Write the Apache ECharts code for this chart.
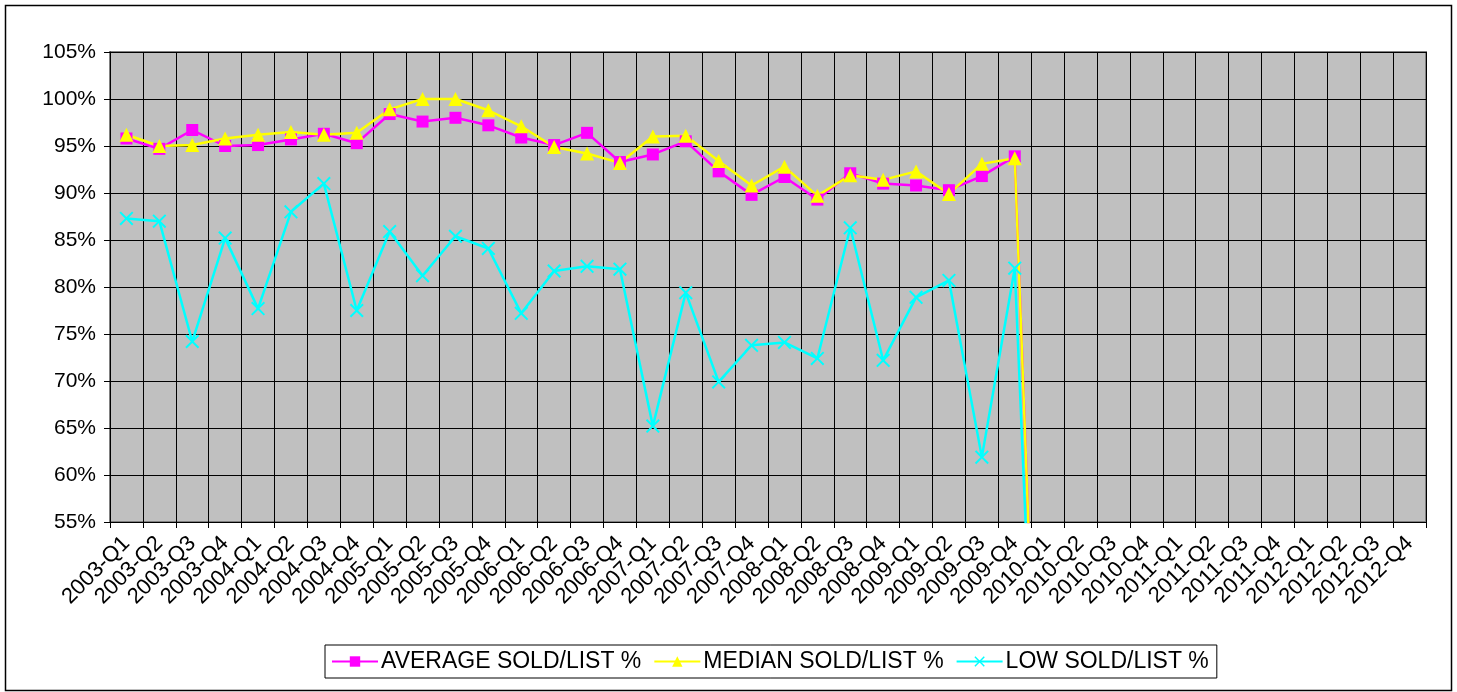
<!DOCTYPE html>
<html>
<head>
<meta charset="utf-8">
<script src="https://cdn.jsdelivr.net/npm/echarts@6/dist/echarts.min.js"></script>
<style>
  html, body { margin: 0; padding: 0; background: #fff; }
  #chart { width: 1457px; height: 692px; }
</style>
</head>
<body>
<div id="chart"></div>
<script>
// quarters 2003-Q1 .. 2012-Q4
var quarters = [];
for (var y = 2003; y <= 2012; y++) {
    for (var q = 1; q <= 4; q++) quarters.push(y + '-Q' + q);
}

// values (2010-Q1 drops to 0, later quarters empty)
var averageSold = [95.8, 94.7, 96.7, 95.0, 95.1, 95.7, 96.3, 95.3, 98.4, 97.6,
    98.0, 97.2, 95.9, 95.1, 96.4, 93.3, 94.1, 95.5, 92.3, 89.8,
    91.7, 89.3, 92.1, 91.0, 90.8, 90.3, 91.8, 93.9, 0];
var medianSold = [96.2, 95.0, 95.1, 95.8, 96.2, 96.5, 96.2, 96.4, 98.9, 100.0,
    100.0, 98.8, 97.1, 94.9, 94.2, 93.2, 96.0, 96.1, 93.4, 90.8,
    92.8, 89.7, 91.9, 91.4, 92.3, 89.9, 93.1, 93.7, 0];
var lowSold = [87.3, 87.0, 74.2, 85.2, 77.7, 88.0, 91.0, 77.5, 85.9, 81.2,
    85.4, 84.1, 77.2, 81.7, 82.2, 81.9, 65.2, 79.4, 69.9, 73.8,
    74.1, 72.4, 86.3, 72.2, 78.9, 80.7, 61.9, 82.0, 0];

var seriesNames = ['AVERAGE SOLD/LIST %', 'MEDIAN SOLD/LIST %', 'LOW SOLD/LIST %'];

var crossPath = 'path://M0,1 L1,0 L5,4 L9,0 L10,1 L6,5 L10,9 L9,10 L5,6 L1,10 L0,9 L4,5 Z';

var chart = echarts.init(document.getElementById('chart'));
var option = {
    animation: false,
    backgroundColor: '#fff',
    textStyle: { fontFamily: 'Liberation Sans, Arial, sans-serif', color: '#000' },
    graphic: [{
        type: 'rect',
        shape: { x: 5.5, y: 5.5, width: 1446, height: 685 },
        style: { fill: 'none', stroke: '#000', lineWidth: 1.5 },
        silent: true
    }],
    grid: {
        left: 110, right: 31, top: 52, bottom: 170,
        show: true,
        backgroundColor: '#c0c0c0',
        borderColor: '#808080',
        borderWidth: 2
    },
    legend: {
        data: seriesNames,
        left: 325,
        top: 645,
        itemWidth: 46,
        itemHeight: 13,
        itemGap: 12,
        padding: [5, 8, 5, 6],
        borderColor: '#000',
        borderWidth: 1,
        textStyle: { fontSize: 23, color: '#000', padding: [0, 0, 0, -2] }
    },
    xAxis: {
        type: 'category',
        data: quarters,
        boundaryGap: true,
        axisLine: { lineStyle: { color: '#000', width: 1 } },
        axisTick: { show: true, length: 6, lineStyle: { color: '#000' } },
        axisLabel: { interval: 0, rotate: 45, fontSize: 22, color: '#000', margin: 18 },
        splitLine: { show: true, interval: 0, lineStyle: { color: '#000', width: 1 } }
    },
    yAxis: {
        type: 'value',
        min: 55,
        max: 105,
        interval: 5,
        axisLine: { show: true, lineStyle: { color: '#000', width: 1 } },
        axisTick: { show: true, length: 6, lineStyle: { color: '#000' } },
        axisLabel: { formatter: '{value}%', fontSize: 21, color: '#000', margin: 14 },
        splitLine: { show: true, lineStyle: { color: '#000', width: 1 } }
    },
    series: [
        {
            name: seriesNames[0],
            type: 'line',
            data: averageSold,
            color: '#ff00ff',
            symbol: 'rect',
            symbolSize: 12,
            lineStyle: { width: 2.5 },
            clip: true
        },
        {
            name: seriesNames[1],
            type: 'line',
            data: medianSold,
            color: '#ffff00',
            symbol: 'triangle',
            symbolSize: 14,
            lineStyle: { width: 2.5 },
            clip: true
        },
        {
            name: seriesNames[2],
            type: 'line',
            data: lowSold,
            color: '#00ffff',
            symbol: crossPath,
            symbolSize: 14,
            lineStyle: { width: 2.5 },
            clip: true
        }
    ]
};
chart.setOption(option);
</script>
</body>
</html>
